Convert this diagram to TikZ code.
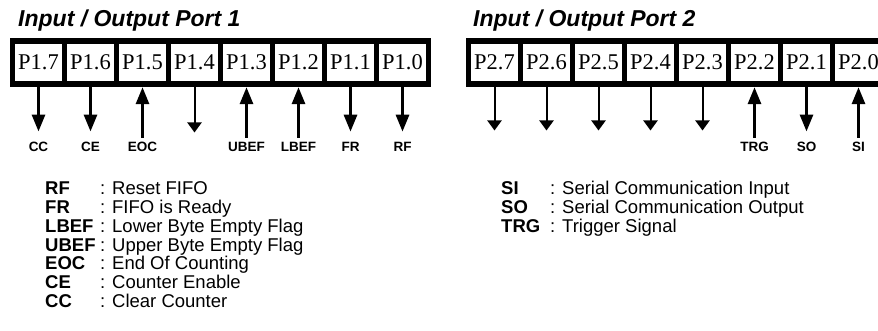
\documentclass[tikz,border=0pt]{standalone}
\usepackage{fontspec}
\setmainfont{Liberation Sans}
\newfontfamily\cellfont{Liberation Serif}
\usetikzlibrary{arrows.meta, positioning}

\begin{document}
\begin{tikzpicture}[
        x = 1pt, y = -1pt, node distance = 52pt, on grid,
        port/.style = {fill = black, minimum width = 421pt, minimum height = 49pt, inner sep = 0pt},
        cell/.style = {fill = white, minimum width = 47pt, minimum height = 37pt, inner sep = 0pt,
                       font = \cellfont\fontsize{22.5}{22.5}\selectfont},
        title/.style = {anchor = base west, inner sep = 0pt, font = \bfseries\itshape\fontsize{23}{23}\selectfont},
        sig/.style = {inner sep = 0pt, font = \bfseries\fontsize{13.5}{13.5}\selectfont},
        key/.style = {anchor = north west, inner sep = 0pt, font = \fontsize{18.5}{18.5}\selectfont},
        wide out/.style = {line width = 3pt, -{Triangle[length = 17pt, width = 13pt]}, shorten >= 10pt},
        wide in/.style = {line width = 3pt, -{Triangle[length = 17pt, width = 13pt]}, shorten <= 4pt, shorten >= 6pt},
        thin out/.style = {line width = 2pt, -{Triangle[length = 10pt, width = 14pt]}}
    ]
        \path[use as bounding box] (0,0) rectangle (878,331);
        \clip (0,0) rectangle (878,331);

        % port 1
        \node[title] (title1) at (18,27) {Input / Output Port 1};
        \node[port] (port1) at (220.5,62.5) {};
        \node[cell] (p17) at (38.5,62.5) {P1.7};
        \node[cell, right = of p17] (p16) {P1.6};
        \node[cell, right = of p16] (p15) {P1.5};
        \node[cell, right = of p15] (p14) {P1.4};
        \node[cell, right = of p14] (p13) {P1.3};
        \node[cell, right = of p13] (p12) {P1.2};
        \node[cell, right = of p12] (p11) {P1.1};
        \node[cell, right = of p11] (p10) {P1.0};

        \node[sig, below = 84pt of p17] (cc) {CC};
        \node[sig, below = 84pt of p16] (ce) {CE};
        \node[sig, below = 84pt of p15] (eoc) {EOC};
        \coordinate[below = 70pt of p14] (p14end);
        \node[sig, below = 84pt of p13] (ubef) {UBEF};
        \node[sig, below = 84pt of p12] (lbef) {LBEF};
        \node[sig, below = 84pt of p11] (fr) {FR};
        \node[sig, below = 84pt of p10] (rf) {RF};

        \draw[wide out] (p17.south) -- (cc);
        \draw[wide out] (p16.south) -- (ce);
        \draw[wide in] (eoc) -- (p15.south);
        \draw[thin out] (p14.south) -- (p14end);
        \draw[wide in] (ubef) -- (p13.south);
        \draw[wide in] (lbef) -- (p12.south);
        \draw[wide out] (p11.south) -- (fr);
        \draw[wide out] (p10.south) -- (rf);

        \node[key] (key1) at (45,181) {\begin{tabular}{@{}p{55pt}@{}l@{}}
            \textbf{RF}   & : Reset FIFO \\
            \textbf{FR}   & : FIFO is Ready \\
            \textbf{LBEF} & : Lower Byte Empty Flag \\
            \textbf{UBEF} & : Upper Byte Empty Flag \\
            \textbf{EOC}  & : End Of Counting \\
            \textbf{CE}   & : Counter Enable \\
            \textbf{CC}   & : Clear Counter
        \end{tabular}};

        % port 2
        \node[title] (title2) at (473,27) {Input / Output Port 2};
        \node[port] (port2) at (676.5,62.5) {};
        \node[cell] (p27) at (494.5,62.5) {P2.7};
        \node[cell, right = of p27] (p26) {P2.6};
        \node[cell, right = of p26] (p25) {P2.5};
        \node[cell, right = of p25] (p24) {P2.4};
        \node[cell, right = of p24] (p23) {P2.3};
        \node[cell, right = of p23] (p22) {P2.2};
        \node[cell, right = of p22] (p21) {P2.1};
        \node[cell, right = of p21] (p20) {P2.0};

        \coordinate[below = 68pt of p27] (p27end);
        \coordinate[below = 68pt of p26] (p26end);
        \coordinate[below = 68pt of p25] (p25end);
        \coordinate[below = 68pt of p24] (p24end);
        \coordinate[below = 68pt of p23] (p23end);
        \node[sig, below = 84pt of p22] (trg) {TRG};
        \node[sig, below = 84pt of p21] (so) {SO};
        \node[sig, below = 84pt of p20] (si) {SI};

        \draw[thin out] (p27.south) -- (p27end);
        \draw[thin out] (p26.south) -- (p26end);
        \draw[thin out] (p25.south) -- (p25end);
        \draw[thin out] (p24.south) -- (p24end);
        \draw[thin out] (p23.south) -- (p23end);
        \draw[wide in] (trg) -- (p22.south);
        \draw[wide out] (p21.south) -- (so);
        \draw[wide in] (si) -- (p20.south);

        \node[key] (key2) at (501,181) {\begin{tabular}{@{}p{49pt}@{}l@{}}
            \textbf{SI}  & : Serial Communication Input \\
            \textbf{SO}  & : Serial Communication Output \\
            \textbf{TRG} & : Trigger Signal
        \end{tabular}};
\end{tikzpicture}
\end{document}
